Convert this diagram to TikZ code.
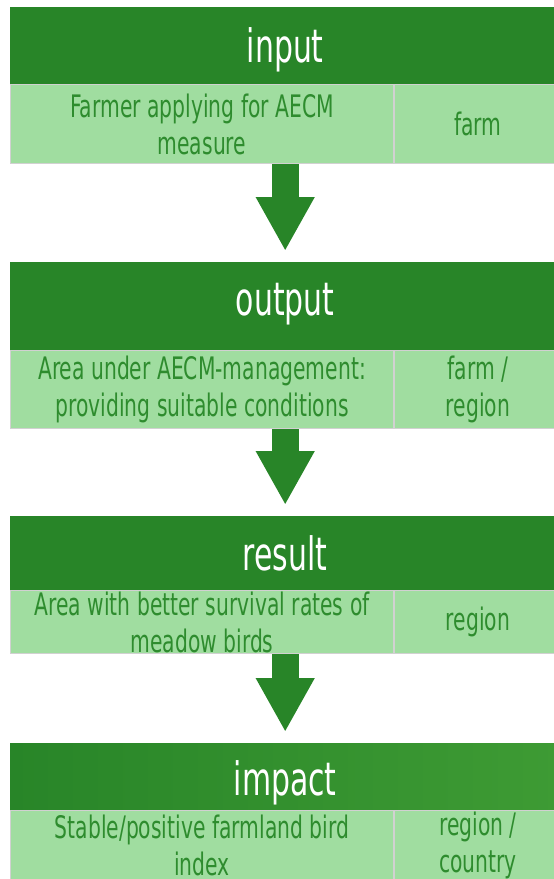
\documentclass[tikz,border=0pt]{standalone}
\usepackage{fontspec}
\setmainfont[FakeStretch=0.655]{DejaVu Sans}
\newfontfamily\headfont[FakeStretch=0.65]{DejaVu Sans}
\usetikzlibrary{calc,arrows.meta}
\definecolor{darkleaf}{RGB}{40,133,40}
\definecolor{brightleaf}{RGB}{62,155,52}
\definecolor{paleleaf}{RGB}{160,221,160}
\definecolor{leaftext}{RGB}{46,140,46}

\tikzset{
  stagehead/.style={left color=darkleaf, text=white, inner sep=0pt, anchor=north west,
    minimum width=550pt, text height=40pt,
    font=\headfont\fontsize{46}{50}\selectfont},
  cell/.style={fill=paleleaf, draw=black!18, line width=1pt, text=leaftext,
    inner sep=0pt, anchor=north west, align=center,
    font=\fontsize{31}{37}\selectfont},
  flow/.style={draw=darkleaf, line width=27pt,
    -{Triangle[width=55pt,length=54pt]}, shorten >=11pt}
}

\begin{document}
\begin{tikzpicture}[x=1pt,y=-1pt]
  \useasboundingbox (0,0) rectangle (554,879);
  \clip (0,0) rectangle (554,879);

  %% stage bars with their two cells below
  \foreach \blk/\top/\hh/\dd/\rc/\rh/\what/\where in {%
    input/7/77/7/darkleaf/79/{Farmer applying for AECM\\measure}/{farm},
    output/262/88/22/darkleaf/78/{Area under AECM-management:\\providing suitable conditions}/{farm /\\region},
    result/516/74/6/darkleaf/63/{Area with better survival rates of\\meadow birds}/{region},
    impact/743/67/3/brightleaf/70/{Stable/positive farmland bird\\index}/{region /\\country}}
  {
    \node[stagehead, right color=\rc, minimum height=\hh pt, text depth=\dd pt] (\blk Head) at (10,\top) {\blk};
    \node[cell, minimum width=383pt, minimum height=\rh pt] (\blk What) at (\blk Head.south west) {\what};
    \node[cell, minimum width=167pt, minimum height=\rh pt] (\blk Where) at (\blk What.north east) {\where};
  }

  %% big arrows between the stages
  \foreach \a/\b in {input/output, output/result, result/impact}
    \draw[flow] (\a What.south -| \b Head.north) -- (\b Head.north);

\end{tikzpicture}
\end{document}
